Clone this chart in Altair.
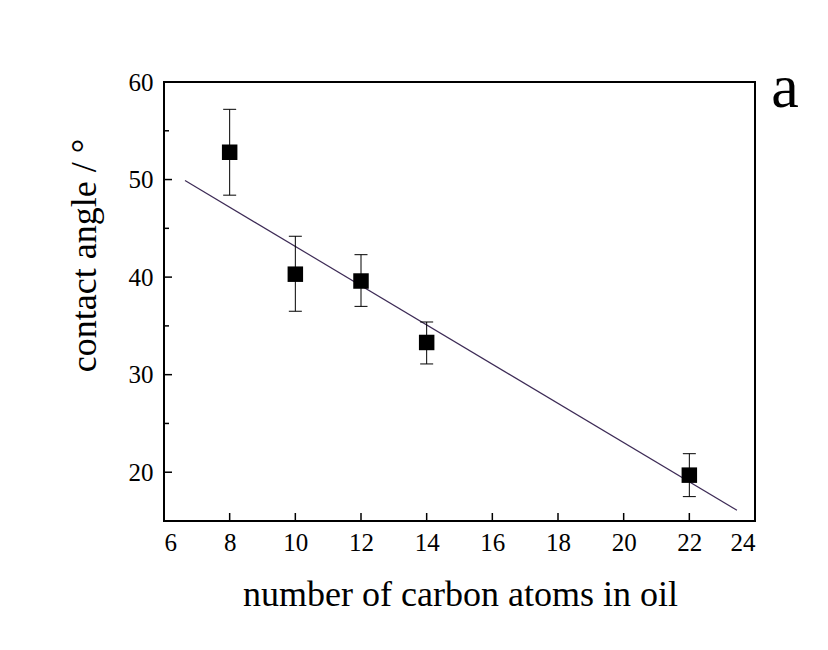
import altair as alt
import pandas as pd

# data
carbon = [8, 10, 12, 14, 22]
angle = [52.8, 40.3, 39.6, 33.3, 19.7]
err_lo = [48.4, 36.5, 37.0, 31.1, 17.5]
err_hi = [57.2, 44.2, 42.3, 35.4, 21.9]
fit_x = [6.64, 23.45]
fit_y = [49.9, 16.1]
x_ticks = [6, 8, 10, 12, 14, 16, 18, 20, 22, 24]
y_ticks = [20, 30, 40, 50, 60]
y_minor = [15, 25, 35, 45, 55]

FONT = "Liberation Serif"
W, H = 591, 439

pts = pd.DataFrame({"x": carbon, "y": angle, "lo": err_lo, "hi": err_hi})
fit = pd.DataFrame({"x": fit_x, "y": fit_y})
xt = pd.DataFrame({"x": x_ticks})
ytm = pd.DataFrame({"y": y_ticks})
ytn = pd.DataFrame({"y": y_minor})

xscale = alt.Scale(domain=[6, 24], nice=False, zero=False)
yscale = alt.Scale(domain=[15, 60], nice=False, zero=False)

xaxis = alt.Axis(values=x_ticks, tickSize=0, domain=False, grid=False,
                 labelFont=FONT, labelFontSize=25, labelColor="black",
                 labelPadding=9, labelFontWeight="normal",
                 title="number of carbon atoms in oil", titleFont=FONT,
                 titleFontSize=36, titleFontWeight="normal", titleColor="black",
                 titleX=296, titleY=84, titleBaseline="alphabetic",
                 titleAlign="center")
yaxis = alt.Axis(values=y_ticks, tickSize=0, domain=False, grid=False,
                 labelFont=FONT, labelFontSize=25, labelColor="black",
                 labelPadding=11, labelFontWeight="normal",
                 title="contact angle / °", titleFont=FONT,
                 titleFontSize=36, titleFontWeight="normal", titleColor="black",
                 titleAngle=270, titleX=-69, titleY=173,
                 titleBaseline="alphabetic", titleAlign="center")


def X(f):
    return alt.X(f, type="quantitative", scale=xscale, axis=xaxis)


def Y(f):
    return alt.Y(f, type="quantitative", scale=yscale, axis=yaxis)


line = alt.Chart(fit).mark_line(color="#3d2b56", strokeWidth=1.2).encode(
    x=X("x"), y=Y("y"))

bars = alt.Chart(pts).mark_rule(color="black", strokeWidth=1).encode(
    x=X("x"), y=Y("lo"), y2="hi")
cap_lo = alt.Chart(pts).mark_tick(orient="horizontal", size=13, thickness=1,
                                  color="black", opacity=1).encode(
    x=X("x"), y=Y("lo"))
cap_hi = alt.Chart(pts).mark_tick(orient="horizontal", size=13, thickness=1,
                                  color="black", opacity=1).encode(
    x=X("x"), y=Y("hi"))
squares = alt.Chart(pts).mark_square(size=240, color="black", opacity=1,
                                     filled=True).encode(x=X("x"), y=Y("y"))

xtick_marks = alt.Chart(xt).mark_rule(color="black", strokeWidth=1.5).encode(
    x=X("x"), y=alt.value(H), y2=alt.value(H - 8))
ytick_marks = alt.Chart(ytm).mark_rule(color="black", strokeWidth=1.5).encode(
    y=Y("y"), x=alt.value(0), x2=alt.value(8))
yminor_marks = alt.Chart(ytn).mark_rule(color="black", strokeWidth=1.5).encode(
    y=Y("y"), x=alt.value(0), x2=alt.value(5))

label = alt.Chart(pd.DataFrame({"t": ["a"]})).mark_text(
    font=FONT, fontSize=62, color="black", align="center",
    baseline="alphabetic").encode(
    text="t:N", x=alt.value(621), y=alt.value(25))

chart = alt.layer(line, bars, cap_lo, cap_hi, squares, xtick_marks,
                  ytick_marks, yminor_marks, label).properties(
    width=W, height=H,
    autosize=alt.AutoSizeParams(type="none"),
    padding={"left": 164, "top": 82, "right": 73, "bottom": 129},
    background="white",
).configure_view(stroke="black", strokeWidth=2)

chart.save("out.html", embed_options={"renderer": "svg", "actions": False})
